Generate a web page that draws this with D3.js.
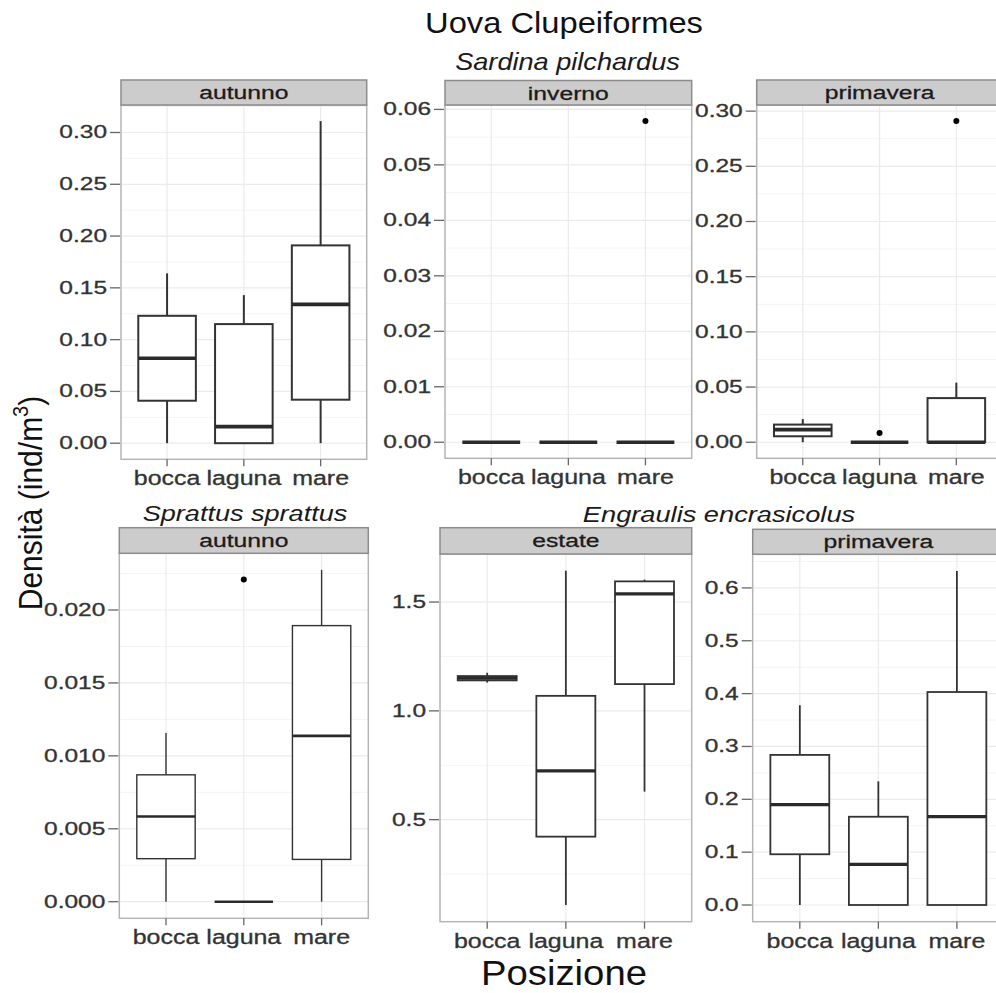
<!DOCTYPE html>
<html>
<head>
<meta charset="utf-8">
<script src="https://cdn.jsdelivr.net/npm/d3@7"></script>
<style>
  body { margin: 0; background: #fff; }
  svg { display: block; }
</style>
</head>
<body>
<svg id="chart" width="996" height="993"></svg>
<script>
// Sampling positions along the x axis
const positions = ["bocca", "laguna", "mare"];

// Five-number summaries per position: [min, q1, median, q3, max]
const sardinaAutunno    = [[0, 0.041, 0.082, 0.123, 0.164], [0, 0, 0.016, 0.115, 0.143], [0, 0.042, 0.134, 0.191, 0.311]];
const sardinaAutunnoOut = [[], [], []];
const sardinaInverno    = [[0, 0, 0, 0, 0], [0, 0, 0, 0, 0], [0, 0, 0, 0, 0]];
const sardinaInvernoOut = [[], [], [0.0579]];
const sardinaPrimavera    = [[0, 0.0054, 0.0114, 0.016, 0.021], [0, 0, 0, 0, 0], [0, 0, 0, 0.040, 0.054]];
const sardinaPrimaveraOut = [[], [0.0084], [0.291]];
const sprattusAutunno    = [[0, 0.00295, 0.00584, 0.0087, 0.01156], [0, 0, 0, 0, 0], [0, 0.0029, 0.01137, 0.01893, 0.02275]];
const sprattusAutunnoOut = [[], [0.02209], []];
const engraulisEstate    = [[1.13, 1.14, 1.15, 1.16, 1.175], [0.108, 0.422, 0.724, 1.069, 1.644], [0.629, 1.123, 1.538, 1.595, 1.603]];
const engraulisEstateOut = [[], [], []];
const engraulisPrimavera    = [[0, 0.096, 0.190, 0.284, 0.378], [0, 0, 0.077, 0.167, 0.234], [0, 0, 0.167, 0.403, 0.632]];
const engraulisPrimaveraOut = [[], [], []];

// Y-axis breaks per panel
const ticksSardinaAutunno    = [0, 0.05, 0.10, 0.15, 0.20, 0.25, 0.30];
const ticksSardinaInverno    = [0, 0.01, 0.02, 0.03, 0.04, 0.05, 0.06];
const ticksSardinaPrimavera  = [0, 0.05, 0.10, 0.15, 0.20, 0.25, 0.30];
const ticksSprattusAutunno   = [0, 0.005, 0.010, 0.015, 0.020];
const ticksEngraulisEstate   = [0.5, 1.0, 1.5];
const ticksEngraulisPrimavera = [0, 0.1, 0.2, 0.3, 0.4, 0.5, 0.6];

// Headings
const mainTitle = "Uova Clupeiformes";
const xTitle = "Posizione";
const species = ["Sardina pilchardus", "Sprattus sprattus", "Engraulis encrasicolus"];

const FONT = "'Liberation Sans', Arial, Helvetica, sans-serif";
const svg = d3.select("#chart");

// Text drawn with a horizontal stretch factor
function label(g, x, y, txt, size, sx, anchor, extra) {
  const fill = (extra && extra.fill) || "#1a1a1a";
  const t = g.append("text")
    .attr("transform", `translate(${x},${y}) scale(${sx},1)`)
    .attr("text-anchor", anchor || "middle")
    .attr("font-family", FONT)
    .attr("font-size", size)
    .attr("fill", fill)
    .text(txt);
  if (extra && extra.italic) t.attr("font-style", "italic");
  if (extra && extra.heavy) t.attr("stroke", fill).attr("stroke-width", extra.heavy);
  return t;
}

// Panel frames
const panels = [
  { season: "autunno",   stats: sardinaAutunno,    out: sardinaAutunnoOut,    ticks: ticksSardinaAutunno,    fmt: ".2f", x0: 121,   x1: 366.7,  stripTop: 80,    top: 105,   bottom: 459.3, lw: 2.0 },
  { season: "inverno",   stats: sardinaInverno,    out: sardinaInvernoOut,    ticks: ticksSardinaInverno,    fmt: ".2f", x0: 445,   x1: 691.7,  stripTop: 80.5,  top: 105,   bottom: 458.3, lw: 2.0 },
  { season: "primavera", stats: sardinaPrimavera,  out: sardinaPrimaveraOut,  ticks: ticksSardinaPrimavera,  fmt: ".2f", x0: 756.7, x1: 1002.4, stripTop: 80,    top: 105,   bottom: 458.3, lw: 2.0 },
  { season: "autunno",   stats: sprattusAutunno,   out: sprattusAutunnoOut,   ticks: ticksSprattusAutunno,   fmt: ".3f", x0: 119.3, x1: 368.3,  stripTop: 527.7, top: 553.3, bottom: 918.3, lw: 1.4 },
  { season: "estate",    stats: engraulisEstate,   out: engraulisEstateOut,   ticks: ticksEngraulisEstate,   fmt: ".1f", x0: 440,   x1: 691.7,  stripTop: 527.7, top: 554,   bottom: 921.7, lw: 1.8 },
  { season: "primavera", stats: engraulisPrimavera, out: engraulisPrimaveraOut, ticks: ticksEngraulisPrimavera, fmt: ".1f", x0: 752.7, x1: 1004, stripTop: 529.3, top: 554.3, bottom: 921.7, lw: 1.8 }
];

panels.forEach(p => {
  const g = svg.append("g");
  // y range covers whiskers and outliers, expanded by 5% each side
  const vals = p.stats.flat().concat(p.out.flat());
  const lo = d3.min(vals), hi = d3.max(vals), pad = (hi - lo) * 0.05;
  const y = d3.scaleLinear().domain([lo - pad, hi + pad]).range([p.bottom, p.top]);
  const x = d3.scalePoint().domain(positions).range([p.x0, p.x1]).padding(0.6);
  const boxW = x.step() * 0.75;

  // background
  g.append("rect").attr("x", p.x0).attr("y", p.top).attr("width", p.x1 - p.x0).attr("height", p.bottom - p.top).attr("fill", "#fff");

  // minor grid lines between breaks
  const step = p.ticks[1] - p.ticks[0];
  const minor = [];
  for (let i = -1; i < p.ticks.length; i++) {
    const m = p.ticks[0] + step * (i + 0.5);
    if (m > y.domain()[0] && m < y.domain()[1]) minor.push(m);
  }
  g.selectAll(".minor").data(minor).join("line")
    .attr("x1", p.x0).attr("x2", p.x1).attr("y1", d => y(d)).attr("y2", d => y(d))
    .attr("stroke", "#f4f4f4").attr("stroke-width", 1);
  g.selectAll(".major").data(p.ticks).join("line")
    .attr("x1", p.x0).attr("x2", p.x1).attr("y1", d => y(d)).attr("y2", d => y(d))
    .attr("stroke", "#ebebeb").attr("stroke-width", 1.2);
  g.selectAll(".vmajor").data(positions).join("line")
    .attr("x1", d => x(d)).attr("x2", d => x(d)).attr("y1", p.top).attr("y2", p.bottom)
    .attr("stroke", "#ebebeb").attr("stroke-width", 1.2);

  // boxes
  p.stats.forEach((s, i) => {
    const cx = x(positions[i]);
    const [mn, q1, md, q3, mx] = s;
    const stroke = "#333";
    g.append("line").attr("x1", cx).attr("x2", cx).attr("y1", y(q3)).attr("y2", y(mx)).attr("stroke", stroke).attr("stroke-width", p.lw);
    g.append("line").attr("x1", cx).attr("x2", cx).attr("y1", y(q1)).attr("y2", y(mn)).attr("stroke", stroke).attr("stroke-width", p.lw);
    g.append("rect").attr("x", cx - boxW / 2).attr("width", boxW)
      .attr("y", y(q3)).attr("height", y(q1) - y(q3))
      .attr("fill", "#fff").attr("stroke", stroke).attr("stroke-width", p.lw);
    g.append("line").attr("x1", cx - boxW / 2).attr("x2", cx + boxW / 2).attr("y1", y(md)).attr("y2", y(md))
      .attr("stroke", "#2a2a2a").attr("stroke-width", p.lw * 1.8);
    g.selectAll(null).data(p.out[i]).join("circle")
      .attr("cx", cx).attr("cy", d => y(d)).attr("r", 3).attr("fill", "#000");
  });

  // panel border
  g.append("rect").attr("x", p.x0).attr("y", p.top).attr("width", p.x1 - p.x0).attr("height", p.bottom - p.top)
    .attr("fill", "none").attr("stroke", "#b5b5b5").attr("stroke-width", 1.5);

  // strip
  g.append("rect").attr("x", p.x0).attr("y", p.stripTop).attr("width", p.x1 - p.x0).attr("height", p.top - p.stripTop)
    .attr("fill", "#cccccc").attr("stroke", "#8c8c8c").attr("stroke-width", 1.5);
  label(g, (p.x0 + p.x1) / 2, p.stripTop + 19, p.season, 19, 1.3, "middle", { heavy: 0.3 });

  // y axis
  const fmt = d3.format(p.fmt);
  p.ticks.forEach(t => {
    g.append("line").attr("x1", p.x0 - 11).attr("x2", p.x0 - 1).attr("y1", y(t)).attr("y2", y(t))
      .attr("stroke", "#666").attr("stroke-width", 1.3);
    label(g, p.x0 - 14, y(t) + 6, fmt(t), 17.5, 1.4, "end", { fill: "#333", heavy: 0.3 });
  });

  // x axis
  positions.forEach(c => {
    g.append("line").attr("x1", x(c)).attr("x2", x(c)).attr("y1", p.bottom).attr("y2", p.bottom + 7)
      .attr("stroke", "#666").attr("stroke-width", 1.3);
    label(g, x(c), p.bottom + 26, c, 19.5, 1.28, "middle", { fill: "#333", heavy: 0.3 });
  });
});

// titles
label(svg, 564, 33, mainTitle, 30, 1.09, "middle", { fill: "#111" });
label(svg, 567.5, 70, species[0], 23, 1.18, "middle", { fill: "#1a1a1a", italic: true });
label(svg, 245, 520.7, species[1], 22, 1.23, "middle", { fill: "#1a1a1a", italic: true });
label(svg, 719, 521.7, species[2], 22.5, 1.21, "middle", { fill: "#1a1a1a", italic: true });
label(svg, 564, 985, xTitle, 34.5, 1.11, "middle", { fill: "#111" });

// rotated y-axis title with superscript
const yt = svg.append("text")
  .attr("transform", "translate(41.5,503) rotate(-90) scale(1,1.11)")
  .attr("text-anchor", "middle")
  .attr("font-family", FONT)
  .attr("font-size", 30)
  .attr("fill", "#111");
yt.append("tspan").text("Densità (ind/m");
yt.append("tspan").attr("font-size", 20).attr("dy", -12).text("3");
yt.append("tspan").attr("dy", 12).text(")");
</script>
</body>
</html>
